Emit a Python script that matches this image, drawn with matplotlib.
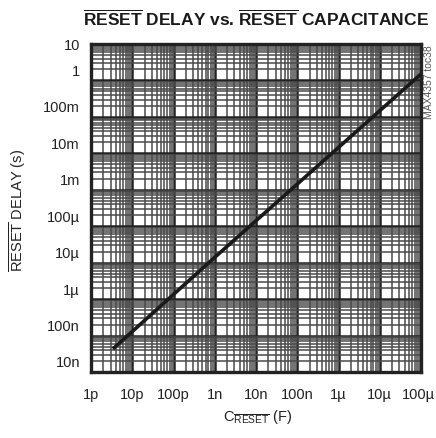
import numpy as np
import matplotlib
matplotlib.use("Agg")
import matplotlib.pyplot as plt
from matplotlib.ticker import LogLocator, FixedLocator, FixedFormatter, NullFormatter
from matplotlib.transforms import ScaledTranslation

plt.rcParams['font.family'] = ['Liberation Sans', 'DejaVu Sans']
plt.rcParams['mathtext.fontset'] = 'custom'
plt.rcParams['mathtext.rm'] = 'Liberation Sans'
plt.rcParams['mathtext.bf'] = 'Liberation Sans:bold'

# reset capacitance (F) and reset delay (s)
cap = [3.4e-12, 1e-9, 1e-6, 1e-4]
delay = [4.3e-8, 1.4e-5, 1.45e-2, 1.5]

xticks = [1e-12, 1e-11, 1e-10, 1e-9, 1e-8, 1e-7, 1e-6, 1e-5, 1e-4]
xlabels = ['1p', '10p', '100p', '1n', '10n', '100n', '1\u00b5', '10\u00b5', '100\u00b5']
yticks = [1e-8, 1e-7, 1e-6, 1e-5, 1e-4, 1e-3, 1e-2, 1e-1, 1, 10]
ylabels = ['10n', '100n', '1\u00b5', '10\u00b5', '100\u00b5', '1m', '10m', '100m', '1', '10']

fig = plt.figure(figsize=(4.36, 4.39), dpi=100)
ax = fig.add_axes([91/436, 1-373/439, 330/436, 328/439])

ax.set_xscale('log')
ax.set_yscale('log')
ax.set_xlim(1e-12, 1e-4)
ax.set_ylim(1e-8, 10)

ax.xaxis.set_major_locator(FixedLocator(xticks))
ax.xaxis.set_major_formatter(FixedFormatter(xlabels))
ax.yaxis.set_major_locator(FixedLocator(yticks))
ax.yaxis.set_major_formatter(FixedFormatter(ylabels))
ax.xaxis.set_minor_locator(LogLocator(base=10, subs=np.arange(2, 10), numticks=50))
ax.yaxis.set_minor_locator(LogLocator(base=10, subs=np.arange(2, 10), numticks=50))
ax.xaxis.set_minor_formatter(NullFormatter())
ax.yaxis.set_minor_formatter(NullFormatter())

ax.grid(which='major', color='#222222', linewidth=1.8)
ax.grid(which='minor', color='#4a4a4a', linewidth=1.1)
ax.set_axisbelow(True)
ax.tick_params(which='both', length=0, labelsize=10.5, colors='#222222')
ax.tick_params(axis='x', pad=11)
ax.tick_params(axis='y', pad=8)
for s in ax.spines.values():
    s.set_linewidth(2.4)
    s.set_color('#222222')

ax.plot(cap, delay, color='#1a1a1a', linewidth=2.6, solid_capstyle='butt', zorder=3)

# the decade labels sit a little above their grid lines, except the top one
shift = ScaledTranslation(0, 0.11, fig.dpi_scale_trans)
for lab in ax.get_yticklabels()[:-1]:
    lab.set_transform(lab.get_transform() + shift)
# keep the last x label inside the figure
ax.get_xticklabels()[-1].set_transform(
    ax.get_xticklabels()[-1].get_transform() + ScaledTranslation(-0.03, 0, fig.dpi_scale_trans))

fig.text(0.588, 0.958, r'$\overline{\mathbf{RESET}}$ DELAY vs. $\overline{\mathbf{RESET}}$ CAPACITANCE',
         ha='center', va='center', fontsize=12.5, fontweight='bold', color='#1a1a1a')
fig.text(0.04, 0.52, r'$\overline{\mathrm{RESET}}$ DELAY (s)', rotation=90,
         ha='center', va='center', fontsize=10.5, color='#222222')
fig.text(0.59, 0.05, r'C$_{\overline{\mathrm{RESET}}}$ (F)',
         ha='center', va='center', fontsize=10.5, color='#222222')
fig.text(0.984, 0.897, 'MAX4357 toc38', rotation=90, ha='center', va='top',
         fontsize=7.5, color='#555555')

fig.savefig('out.png', dpi=100)
